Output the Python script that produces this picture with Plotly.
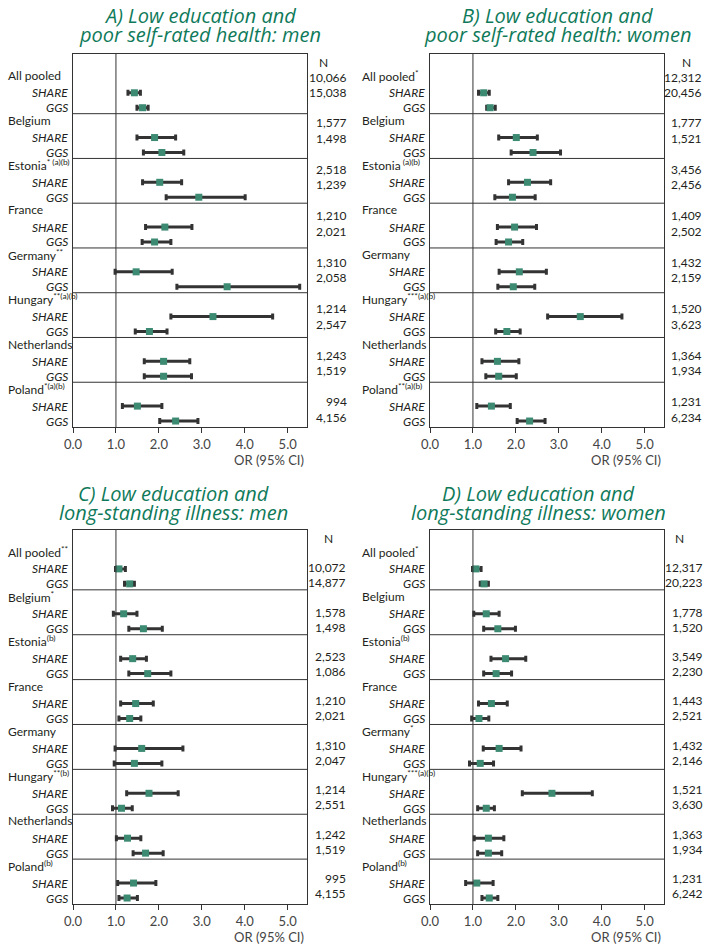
import plotly.graph_objects as go

# ---------------- data ----------------
GROUPS = ["All pooled", "Belgium", "Estonia", "France", "Germany", "Hungary", "Netherlands", "Poland"]
SOURCES = ["SHARE", "GGS"]
X_TICKS = [0, 1, 2, 3, 4, 5]
X_TICKTEXT = ["0.0", "1.0", "2.0", "3.0", "4.0", "5.0"]

A_TITLE = ["A) Low education and", "poor self-rated health: men"]
A_LABELS = ["All pooled", "Belgium", "Estonia<sup>* (a)(b)</sup>", "France", "Germany<sup>**</sup>",
            "Hungary<sup>**(a)(b)</sup>", "Netherlands", "Poland<sup>*(a)(b)</sup>"]
A_SHARE_OR = [1.43, 1.90, 2.02, 2.14, 1.47, 3.26, 2.11, 1.50]
A_SHARE_LO = [1.28, 1.49, 1.62, 1.69, 0.98, 2.28, 1.66, 1.15]
A_SHARE_HI = [1.57, 2.39, 2.53, 2.77, 2.31, 4.65, 2.72, 2.07]
A_GGS_OR = [1.62, 2.07, 2.93, 1.90, 3.59, 1.78, 2.11, 2.39]
A_GGS_LO = [1.49, 1.64, 2.17, 1.61, 2.42, 1.45, 1.66, 2.02]
A_GGS_HI = [1.75, 2.58, 4.01, 2.28, 5.28, 2.19, 2.76, 2.91]
A_N_SHARE = ["10,066", "1,577", "2,518", "1,210", "1,310", "1,214", "1,243", "994"]
A_N_GGS = ["15,038", "1,498", "1,239", "2,021", "2,058", "2,547", "1,519", "4,156"]

B_TITLE = ["B) Low education and", "poor self-rated health: women"]
B_LABELS = ["All pooled<sup>*</sup>", "Belgium", "Estonia<sup> (a)(b)</sup>", "France", "Germany",
            "Hungary<sup>***(a)(b)</sup>", "Netherlands", "Poland<sup>**(a)(b)</sup>"]
B_SHARE_OR = [1.25, 2.01, 2.27, 1.97, 2.08, 3.50, 1.57, 1.43]
B_SHARE_LO = [1.13, 1.60, 1.83, 1.57, 1.61, 2.74, 1.21, 1.09]
B_SHARE_HI = [1.38, 2.50, 2.81, 2.48, 2.71, 4.47, 2.07, 1.87]
B_GGS_OR = [1.40, 2.40, 1.92, 1.83, 1.94, 1.79, 1.60, 2.32]
B_GGS_LO = [1.32, 1.89, 1.51, 1.54, 1.58, 1.53, 1.30, 2.03]
B_GGS_HI = [1.52, 3.04, 2.45, 2.16, 2.44, 2.10, 2.01, 2.68]
B_N_SHARE = ["12,312", "1,777", "3,456", "1,409", "1,432", "1,520", "1,364", "1,231"]
B_N_GGS = ["20,456", "1,521", "2,456", "2,502", "2,159", "3,623", "1,934", "6,234"]

C_TITLE = ["C) Low education and", "long-standing illness: men"]
C_LABELS = ["All pooled<sup>**</sup>", "Belgium<sup>*</sup>", "Estonia<sup>(b)</sup>", "France", "Germany",
            "Hungary<sup>**(b)</sup>", "Netherlands", "Poland<sup>(b)</sup>"]
C_SHARE_OR = [1.07, 1.18, 1.39, 1.46, 1.60, 1.77, 1.27, 1.41]
C_SHARE_LO = [0.99, 0.94, 1.11, 1.11, 0.98, 1.25, 1.01, 1.04]
C_SHARE_HI = [1.22, 1.49, 1.71, 1.87, 2.56, 2.45, 1.58, 1.93]
C_GGS_OR = [1.32, 1.64, 1.74, 1.32, 1.43, 1.13, 1.69, 1.26]
C_GGS_LO = [1.20, 1.30, 1.30, 1.07, 0.96, 0.92, 1.40, 1.07]
C_GGS_HI = [1.43, 2.08, 2.28, 1.58, 2.07, 1.38, 2.10, 1.50]
C_N_SHARE = ["10,072", "1,578", "2,523", "1,210", "1,310", "1,214", "1,242", "995"]
C_N_GGS = ["14,877", "1,498", "1,086", "2,021", "2,047", "2,551", "1,519", "4,155"]

D_TITLE = ["D) Low education and", "long-standing illness: women"]
D_LABELS = ["All pooled<sup>*</sup>", "Belgium", "Estonia<sup>(b)</sup>", "France", "Germany<sup>*</sup>",
            "Hungary<sup>***(a)(b)</sup>", "Netherlands", "Poland<sup>(b)</sup>"]
D_SHARE_OR = [1.07, 1.31, 1.76, 1.43, 1.61, 2.84, 1.36, 1.09]
D_SHARE_LO = [0.99, 1.02, 1.42, 1.13, 1.24, 2.15, 1.03, 0.83]
D_SHARE_HI = [1.19, 1.61, 2.23, 1.80, 2.12, 3.78, 1.72, 1.47]
D_GGS_OR = [1.26, 1.58, 1.54, 1.14, 1.17, 1.31, 1.36, 1.38]
D_GGS_LO = [1.17, 1.25, 1.25, 0.97, 0.92, 1.11, 1.11, 1.21]
D_GGS_HI = [1.36, 1.99, 1.90, 1.37, 1.48, 1.50, 1.67, 1.58]
D_N_SHARE = ["12,317", "1,778", "3,549", "1,443", "1,432", "1,521", "1,363", "1,231"]
D_N_GGS = ["20,223", "1,520", "2,230", "2,521", "2,146", "3,630", "1,934", "6,242"]

# ---------------- layout helpers ----------------
W, H = 712, 951
FONT = "Lato"
TITLE_FONT = "Open Sans"
TXT = "#231f20"
TITLE_COL = "#0f7a5a"
MARK_COL = "#3c8a72"
BAR_COL = "#333333"
XMAX = 5.45
NROWS = 25


def px(x):
    return x / W


def py(y):
    return 1 - y / H


def label_row(g):
    return 1 if g == 0 else 4 + 3 * (g - 1)


panels = [
    dict(title=A_TITLE, labels=A_LABELS, s=(A_SHARE_OR, A_SHARE_LO, A_SHARE_HI),
         gg=(A_GGS_OR, A_GGS_LO, A_GGS_HI), n=(A_N_SHARE, A_N_GGS),
         box=(73, 307, 54, 427), tcx=200, ty=(15, 34), lx=6, sx=70, nh=323, nv=349, mode="ab"),
    dict(title=B_TITLE, labels=B_LABELS, s=(B_SHARE_OR, B_SHARE_LO, B_SHARE_HI),
         gg=(B_GGS_OR, B_GGS_LO, B_GGS_HI), n=(B_N_SHARE, B_N_GGS),
         box=(430, 664, 54, 427), tcx=557, ty=(15, 34), lx=360, sx=427, nh=686, nv=704, mode="ab"),
    dict(title=C_TITLE, labels=C_LABELS, s=(C_SHARE_OR, C_SHARE_LO, C_SHARE_HI),
         gg=(C_GGS_OR, C_GGS_LO, C_GGS_HI), n=(C_N_SHARE, C_N_GGS),
         box=(73, 307, 530, 904), tcx=173, ty=(493, 512), lx=6, sx=70, nh=328, nv=348, mode="cd"),
    dict(title=D_TITLE, labels=D_LABELS, s=(D_SHARE_OR, D_SHARE_LO, D_SHARE_HI),
         gg=(D_GGS_OR, D_GGS_LO, D_GGS_HI), n=(D_N_SHARE, D_N_GGS),
         box=(430, 664, 530, 904), tcx=538, ty=(493, 512), lx=360, sx=427, nh=679, nv=705, mode="cd"),
]

fig = go.Figure()
annotations = []
shapes = []
layout = {}

for k, p in enumerate(panels):
    i = k + 1
    xa = "x" if i == 1 else f"x{i}"
    ya = "y" if i == 1 else f"y{i}"
    x0, x1, y0, y1 = p["box"]

    for si, (vals, off) in enumerate([(p["s"], 1), (p["gg"], 2)]):
        orv, lo, hi = vals
        ys = [label_row(g) + off + 0.6 for g in range(len(GROUPS))]
        fig.add_trace(go.Scatter(
            x=orv, y=ys, mode="markers", xaxis=xa, yaxis=ya, showlegend=False,
            name=SOURCES[si],
            marker=dict(symbol="square", size=7, color=MARK_COL),
            error_x=dict(type="data", symmetric=False,
                         array=[h - o for h, o in zip(hi, orv)],
                         arrayminus=[o - l for o, l in zip(orv, lo)],
                         color=BAR_COL, thickness=3, width=3),
        ))

    layout["xaxis" if i == 1 else f"xaxis{i}"] = dict(
        domain=[px(x0), px(x1)], anchor=ya, range=[0, XMAX], automargin=False,
        showline=True, mirror=True, linecolor=BAR_COL, linewidth=1,
        ticks="outside", ticklen=5, tickcolor=BAR_COL, tickwidth=1,
        tickvals=X_TICKS, ticktext=X_TICKTEXT, showgrid=False, zeroline=False,
        tickfont=dict(family=FONT, size=13, color="#444"),
    )
    layout["yaxis" if i == 1 else f"yaxis{i}"] = dict(
        domain=[py(y1), py(y0)], anchor=xa, range=[NROWS, 0], automargin=False,
        showline=True, mirror=True, linecolor=BAR_COL, linewidth=1,
        showticklabels=False, ticks="", showgrid=False, zeroline=False,
    )

    # reference line at OR = 1
    shapes.append(dict(type="line", xref=xa, yref=ya, x0=1, x1=1, y0=0, y1=NROWS,
                       line=dict(color=BAR_COL, width=1)))
    # group separators
    for g in range(1, len(GROUPS)):
        yy = label_row(g)
        shapes.append(dict(type="line", xref=xa, yref=ya, x0=0, x1=XMAX, y0=yy, y1=yy,
                           line=dict(color=BAR_COL, width=1)))

    # titles
    for li, line in enumerate(p["title"]):
        annotations.append(dict(xref="paper", yref="paper", x=px(p["tcx"]), y=py(p["ty"][li]),
                                text=f"<i>{line}</i>", showarrow=False, xanchor="center",
                                yanchor="middle",
                                font=dict(family=TITLE_FONT, size=20, color=TITLE_COL)))
    # row labels
    for g, lab in enumerate(p["labels"]):
        r = label_row(g)
        annotations.append(dict(xref="paper", yref=ya, x=px(p["lx"]), y=r + 0.45, text=lab,
                                showarrow=False, xanchor="left", yanchor="middle",
                                font=dict(family=FONT, size=12, color=TXT)))
        for si, src in enumerate(SOURCES):
            annotations.append(dict(xref="paper", yref=ya, x=px(p["sx"]), y=r + 1 + si + 0.6,
                                    text=f"<i>{src}</i>", showarrow=False, xanchor="right",
                                    yanchor="middle",
                                    font=dict(family=FONT, size=12, color=TXT)))
    # N column
    annotations.append(dict(xref="paper", yref=ya, x=px(p["nh"]), y=0.55, text="N",
                            showarrow=False, xanchor="center", yanchor="middle",
                            font=dict(family=FONT, size=12, color=TXT)))
    nshare, nggs = p["n"]
    for g in range(len(GROUPS)):
        if p["mode"] == "ab":
            yn = 1.55 if g == 0 else 4.62 + 3.117 * (g - 1)
            yn2 = yn + 1.04
        else:
            yn = 2.5 if g == 0 else 5.5 + 3 * (g - 1) - 0.035 * (g - 1)
            yn2 = yn + 1.0
        for val, yv in [(nshare[g], yn), (nggs[g], yn2)]:
            annotations.append(dict(xref="paper", yref=ya, x=px(p["nv"]), y=yv, text=val,
                                    showarrow=False, xanchor="right", yanchor="middle",
                                    font=dict(family=FONT, size=12, color=TXT)))
    # axis title
    annotations.append(dict(xref="paper", yref="paper", x=px(x1 - 1), y=py(y1 + 33),
                            text="OR (95% CI)", showarrow=False, xanchor="right",
                            yanchor="middle", font=dict(family=FONT, size=13, color="#444")))

fig.update_layout(
    width=W, height=H, margin=dict(l=0, r=0, t=0, b=0, autoexpand=False),
    paper_bgcolor="white", plot_bgcolor="white",
    annotations=annotations, shapes=shapes, **layout,
)

fig.write_html("out.html")
